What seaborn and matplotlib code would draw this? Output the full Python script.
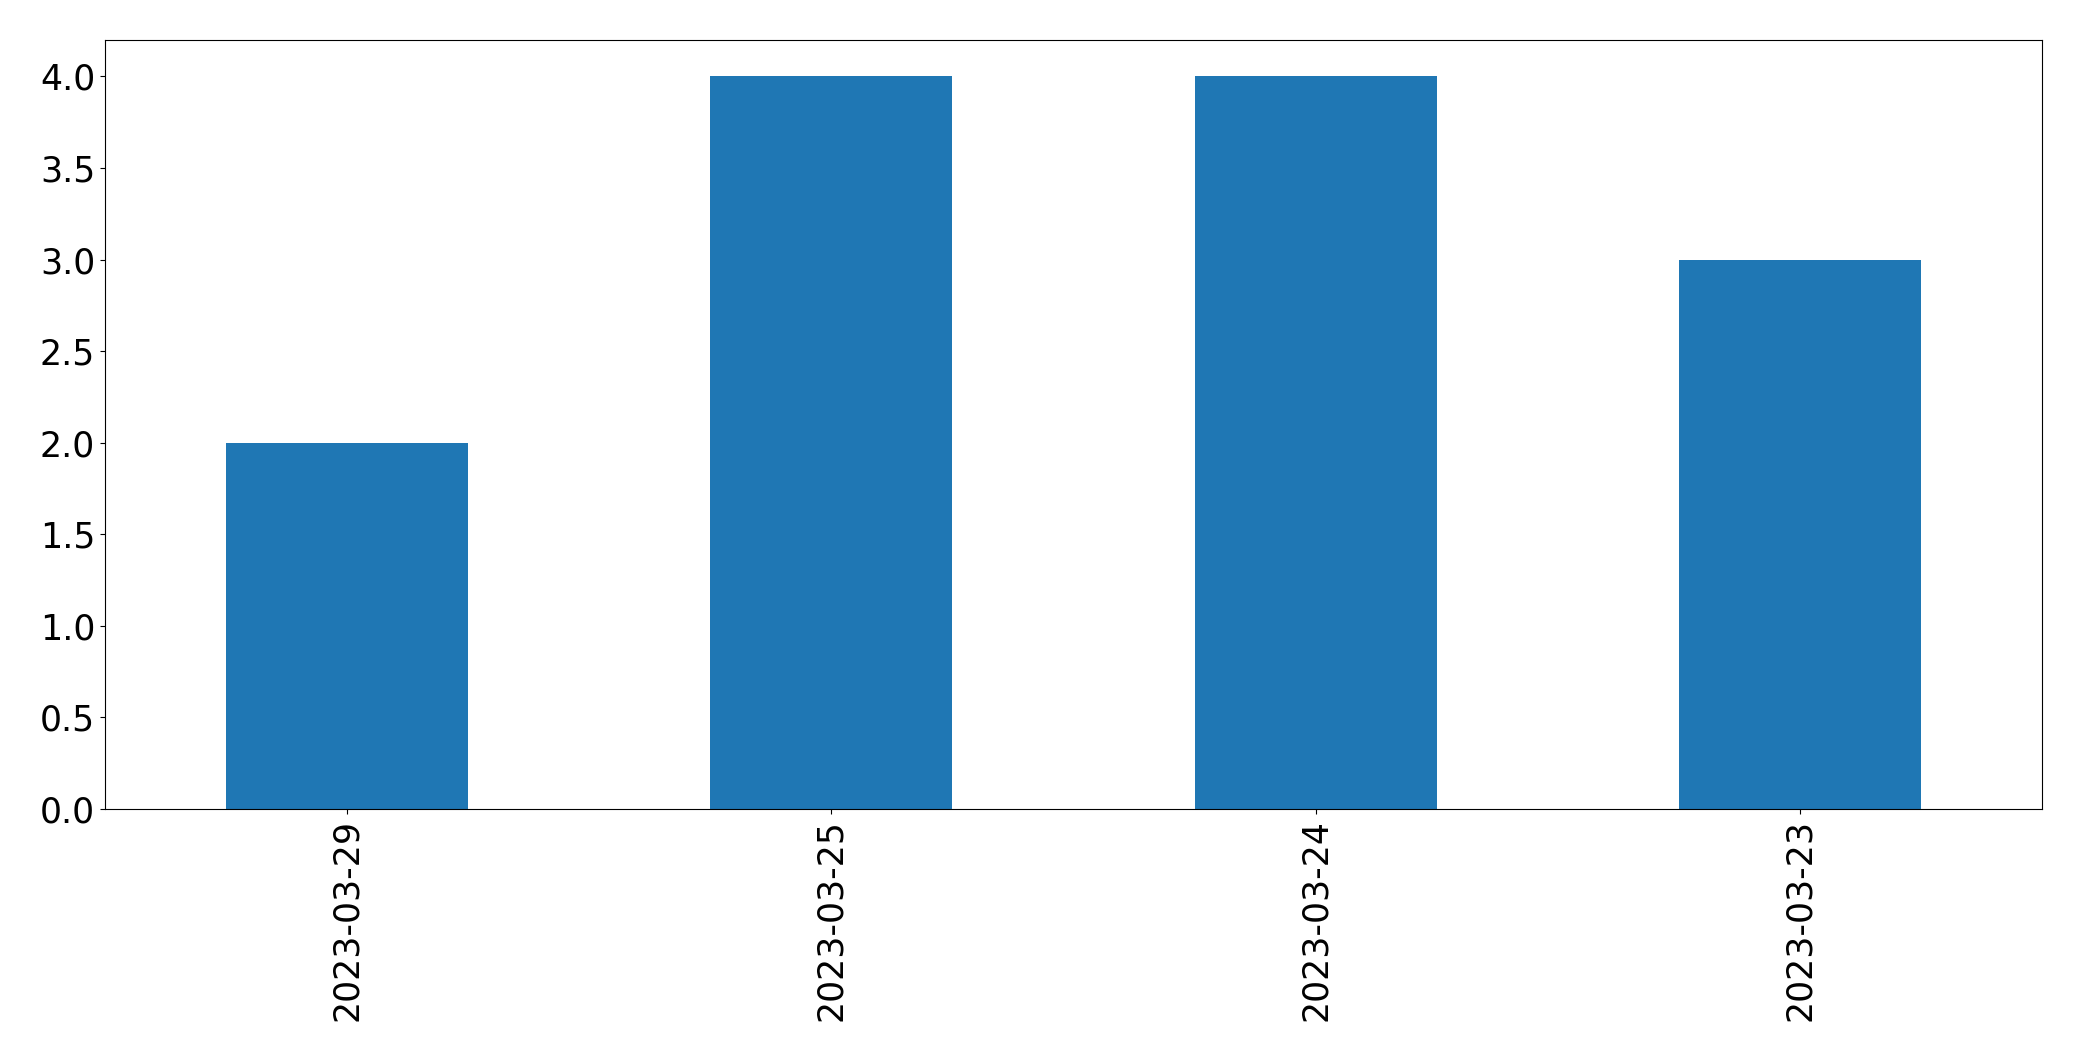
import pandas as pd
import matplotlib
import matplotlib.pyplot as plt
import seaborn as sns

matplotlib.use('Agg')

# data
dates = ['2023-03-29', '2023-03-25', '2023-03-24', '2023-03-23']
counts = [2, 4, 4, 3]

df = pd.DataFrame({'date': dates, 'count': counts})

fig, ax = plt.subplots(figsize=(20.82, 10.61), dpi=100)
fig.subplots_adjust(left=0.0504, right=0.9808, top=0.9625, bottom=0.2375)

sns.barplot(x='date', y='count', data=df, order=dates, color='#1f77b4',
            saturation=1, width=0.5, ax=ax)

ax.set_ylim(0, 4.2)
ax.set_xlabel('')
ax.set_ylabel('')
for s in ax.spines.values():
    s.set_edgecolor('black')
ax.tick_params(axis='both', labelsize=25, colors='black')
ax.tick_params(axis='x', labelrotation=90)

plt.savefig('out.png', dpi=100)
plt.close()
